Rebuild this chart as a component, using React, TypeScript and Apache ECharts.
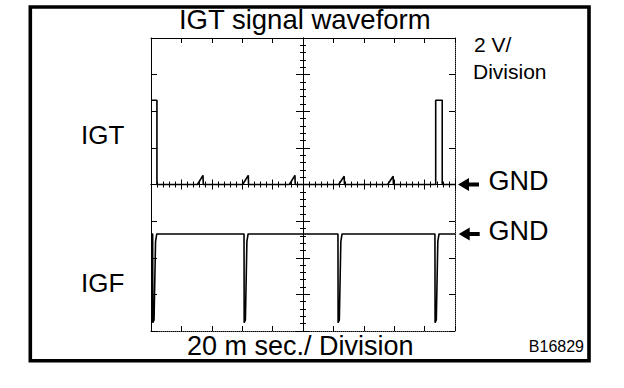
import React, { useEffect, useRef } from "react";
import * as echarts from "echarts";

// Time in ms relative to the centre graticule line (20 ms / division, 10 divisions)
// Voltage in V (2 V / division, 8 divisions), relative to each trace's GND marker.
const igtTimes = [-100, -96.1, -96.1, -69.5, -65.8, -65.6, -39.7, -36.0, -35.8, -9.0, -5.3, -5.1, 23.5, 27.1, 27.3, 55.7, 59.3, 59.5, 87.3, 87.3, 91.6, 91.6, 100];
const igtVolts = [4.6, 4.6, 0, 0, 0.5, 0, 0, 0.5, 0, 0, 0.5, 0, 0, 0.45, 0, 0, 0.45, 0, 0, 4.6, 4.6, 0, 0];

const igfTimes = [-100, -98.9, -98.8, -98.0, -97.0, -96.2, -38.8, -38.7, -37.9, -36.9, -36.1, 23.0, 23.1, 23.9, 24.9, 25.7, 86.8, 86.9, 87.7, 88.7, 89.5, 100];
const igfVolts = [0, 0, -4.85, -4.7, -0.4, 0, 0, -4.85, -4.7, -0.4, 0, 0, -4.85, -4.7, -0.4, 0, 0, -4.85, -4.7, -0.4, 0, 0];

// Screen level (in V on the 2 V/div scale) where each trace's GND sits
const igtGround = 0;
const igfGround = -2.7;

const timeMin = -100;
const timeMax = 100;
const timeDiv = 20;
const voltMin = -8;
const voltMax = 8;
const voltDiv = 2;

const FONT = '"Liberation Sans", Arial, Helvetica, sans-serif';

export default function App() {
  const ref = useRef<HTMLDivElement>(null);

  useEffect(() => {
    if (!ref.current) return;
    const chart = echarts.init(ref.current, undefined, { renderer: "svg" });
    const black = "#000";
    const hidden = { axisLabel: { show: false }, splitLine: { show: false } };
    const xBase = { type: "value", min: timeMin, max: timeMax, interval: timeDiv, ...hidden };
    const yBase = { type: "value", min: voltMin, max: voltMax, interval: voltDiv, ...hidden };
    const tickStyle = { color: black, width: 1 };

    const txt = (text: string, x: number, y: number, size: number, align: string) => ({
      type: "text",
      x,
      y,
      silent: true,
      style: {
        text,
        fill: black,
        fontSize: size,
        fontFamily: FONT,
        align,
        verticalAlign: "middle",
        textAlign: align,
        textVerticalAlign: "middle",
      },
    });

    const arrow = (x: number, y: number) => ({
      type: "polygon",
      silent: true,
      shape: {
        points: [
          [x, y],
          [x + 11, y - 6.5],
          [x + 11, y - 2],
          [x + 21, y - 2],
          [x + 21, y + 2],
          [x + 11, y + 2],
          [x + 11, y + 6.5],
        ],
      },
      style: { fill: black },
    });

    chart.setOption({
      animation: false,
      grid: { left: 151, top: 38, width: 304, height: 293, containLabel: false },
      xAxis: [
        {
          ...xBase,
          position: "bottom",
          axisLine: { onZero: false, lineStyle: { color: black, width: 1, type: "dotted" } },
          axisTick: { inside: true, length: 5, lineStyle: tickStyle },
        },
        {
          ...xBase,
          position: "top",
          axisLine: { onZero: false, lineStyle: { color: black, width: 1 } },
          axisTick: { inside: true, length: 5, lineStyle: tickStyle },
        },
        {
          ...xBase,
          position: "bottom",
          axisLine: { onZero: true, onZeroAxisIndex: 0, lineStyle: { color: black, width: 1 } },
          axisTick: { inside: true, length: 5, lineStyle: tickStyle },
          minorTick: { show: true, splitNumber: 5, length: 3, lineStyle: tickStyle },
        },
        {
          ...xBase,
          position: "bottom",
          axisLine: { onZero: true, onZeroAxisIndex: 0, lineStyle: { color: black, width: 1 } },
          axisTick: { inside: false, length: 5, lineStyle: tickStyle },
          minorTick: { show: true, splitNumber: 5, length: 3, lineStyle: tickStyle },
        },
      ],
      yAxis: [
        {
          ...yBase,
          position: "left",
          axisLine: { show: true, onZero: false, lineStyle: { color: black, width: 1 } },
          axisTick: { show: true, inside: true, length: 6, lineStyle: tickStyle },
        },
        {
          ...yBase,
          position: "right",
          axisLine: { show: true, onZero: false, lineStyle: { color: black, width: 1, type: "dotted" } },
          axisTick: { show: true, inside: true, length: 6, lineStyle: tickStyle },
        },
        {
          ...yBase,
          position: "left",
          axisLine: { show: true, onZero: true, onZeroAxisIndex: 0, lineStyle: { color: black, width: 1 } },
          axisTick: { show: true, inside: true, length: 7, lineStyle: tickStyle },
          minorTick: { show: true, splitNumber: 5, length: 3, lineStyle: tickStyle },
        },
        {
          ...yBase,
          position: "left",
          axisLine: { show: true, onZero: true, onZeroAxisIndex: 0, lineStyle: { color: black, width: 1 } },
          axisTick: { show: true, inside: false, length: 7, lineStyle: tickStyle },
          minorTick: { show: true, splitNumber: 5, length: 3, lineStyle: tickStyle },
        },
      ],
      series: [
        {
          name: "IGT",
          type: "line",
          xAxisIndex: 0,
          yAxisIndex: 0,
          symbol: "none",
          silent: true,
          lineStyle: { color: black, width: 1.6 },
          data: igtTimes.map((t, i) => [t, igtGround + igtVolts[i]]),
          z: 5,
        },
        {
          name: "IGF",
          type: "line",
          xAxisIndex: 0,
          yAxisIndex: 0,
          symbol: "none",
          silent: true,
          lineStyle: { color: black, width: 1.6 },
          data: igfTimes.map((t, i) => [t, igfGround + igfVolts[i]]),
          z: 5,
        },
      ],
      graphic: [
        {
          type: "rect",
          silent: true,
          shape: { x: 30.3, y: 7, width: 558.7, height: 353.7 },
          style: { fill: "none", stroke: black, lineWidth: 3.6 },
        },
        txt("IGT signal waveform", 304.8, 19.5, 27.5, "center"),
        txt("IGT", 81, 135, 26, "left"),
        txt("IGF", 81, 283, 26, "left"),
        txt("2 V/", 474, 44.5, 21, "left"),
        txt("Division", 473, 71, 21, "left"),
        arrow(458, 184.4),
        txt("GND", 488.4, 181.3, 27, "left"),
        arrow(458.7, 234),
        txt("GND", 488.4, 231, 27, "left"),
        txt("20 m sec./ Division", 300.2, 345.7, 27, "center"),
        txt("B16829", 584, 346.3, 16, "right"),
      ],
    });

    return () => chart.dispose();
  }, []);

  return (
    <div
      ref={ref}
      style={{ position: "absolute", left: 0, top: 0, width: 624, height: 388, background: "#fff" }}
    />
  );
}
